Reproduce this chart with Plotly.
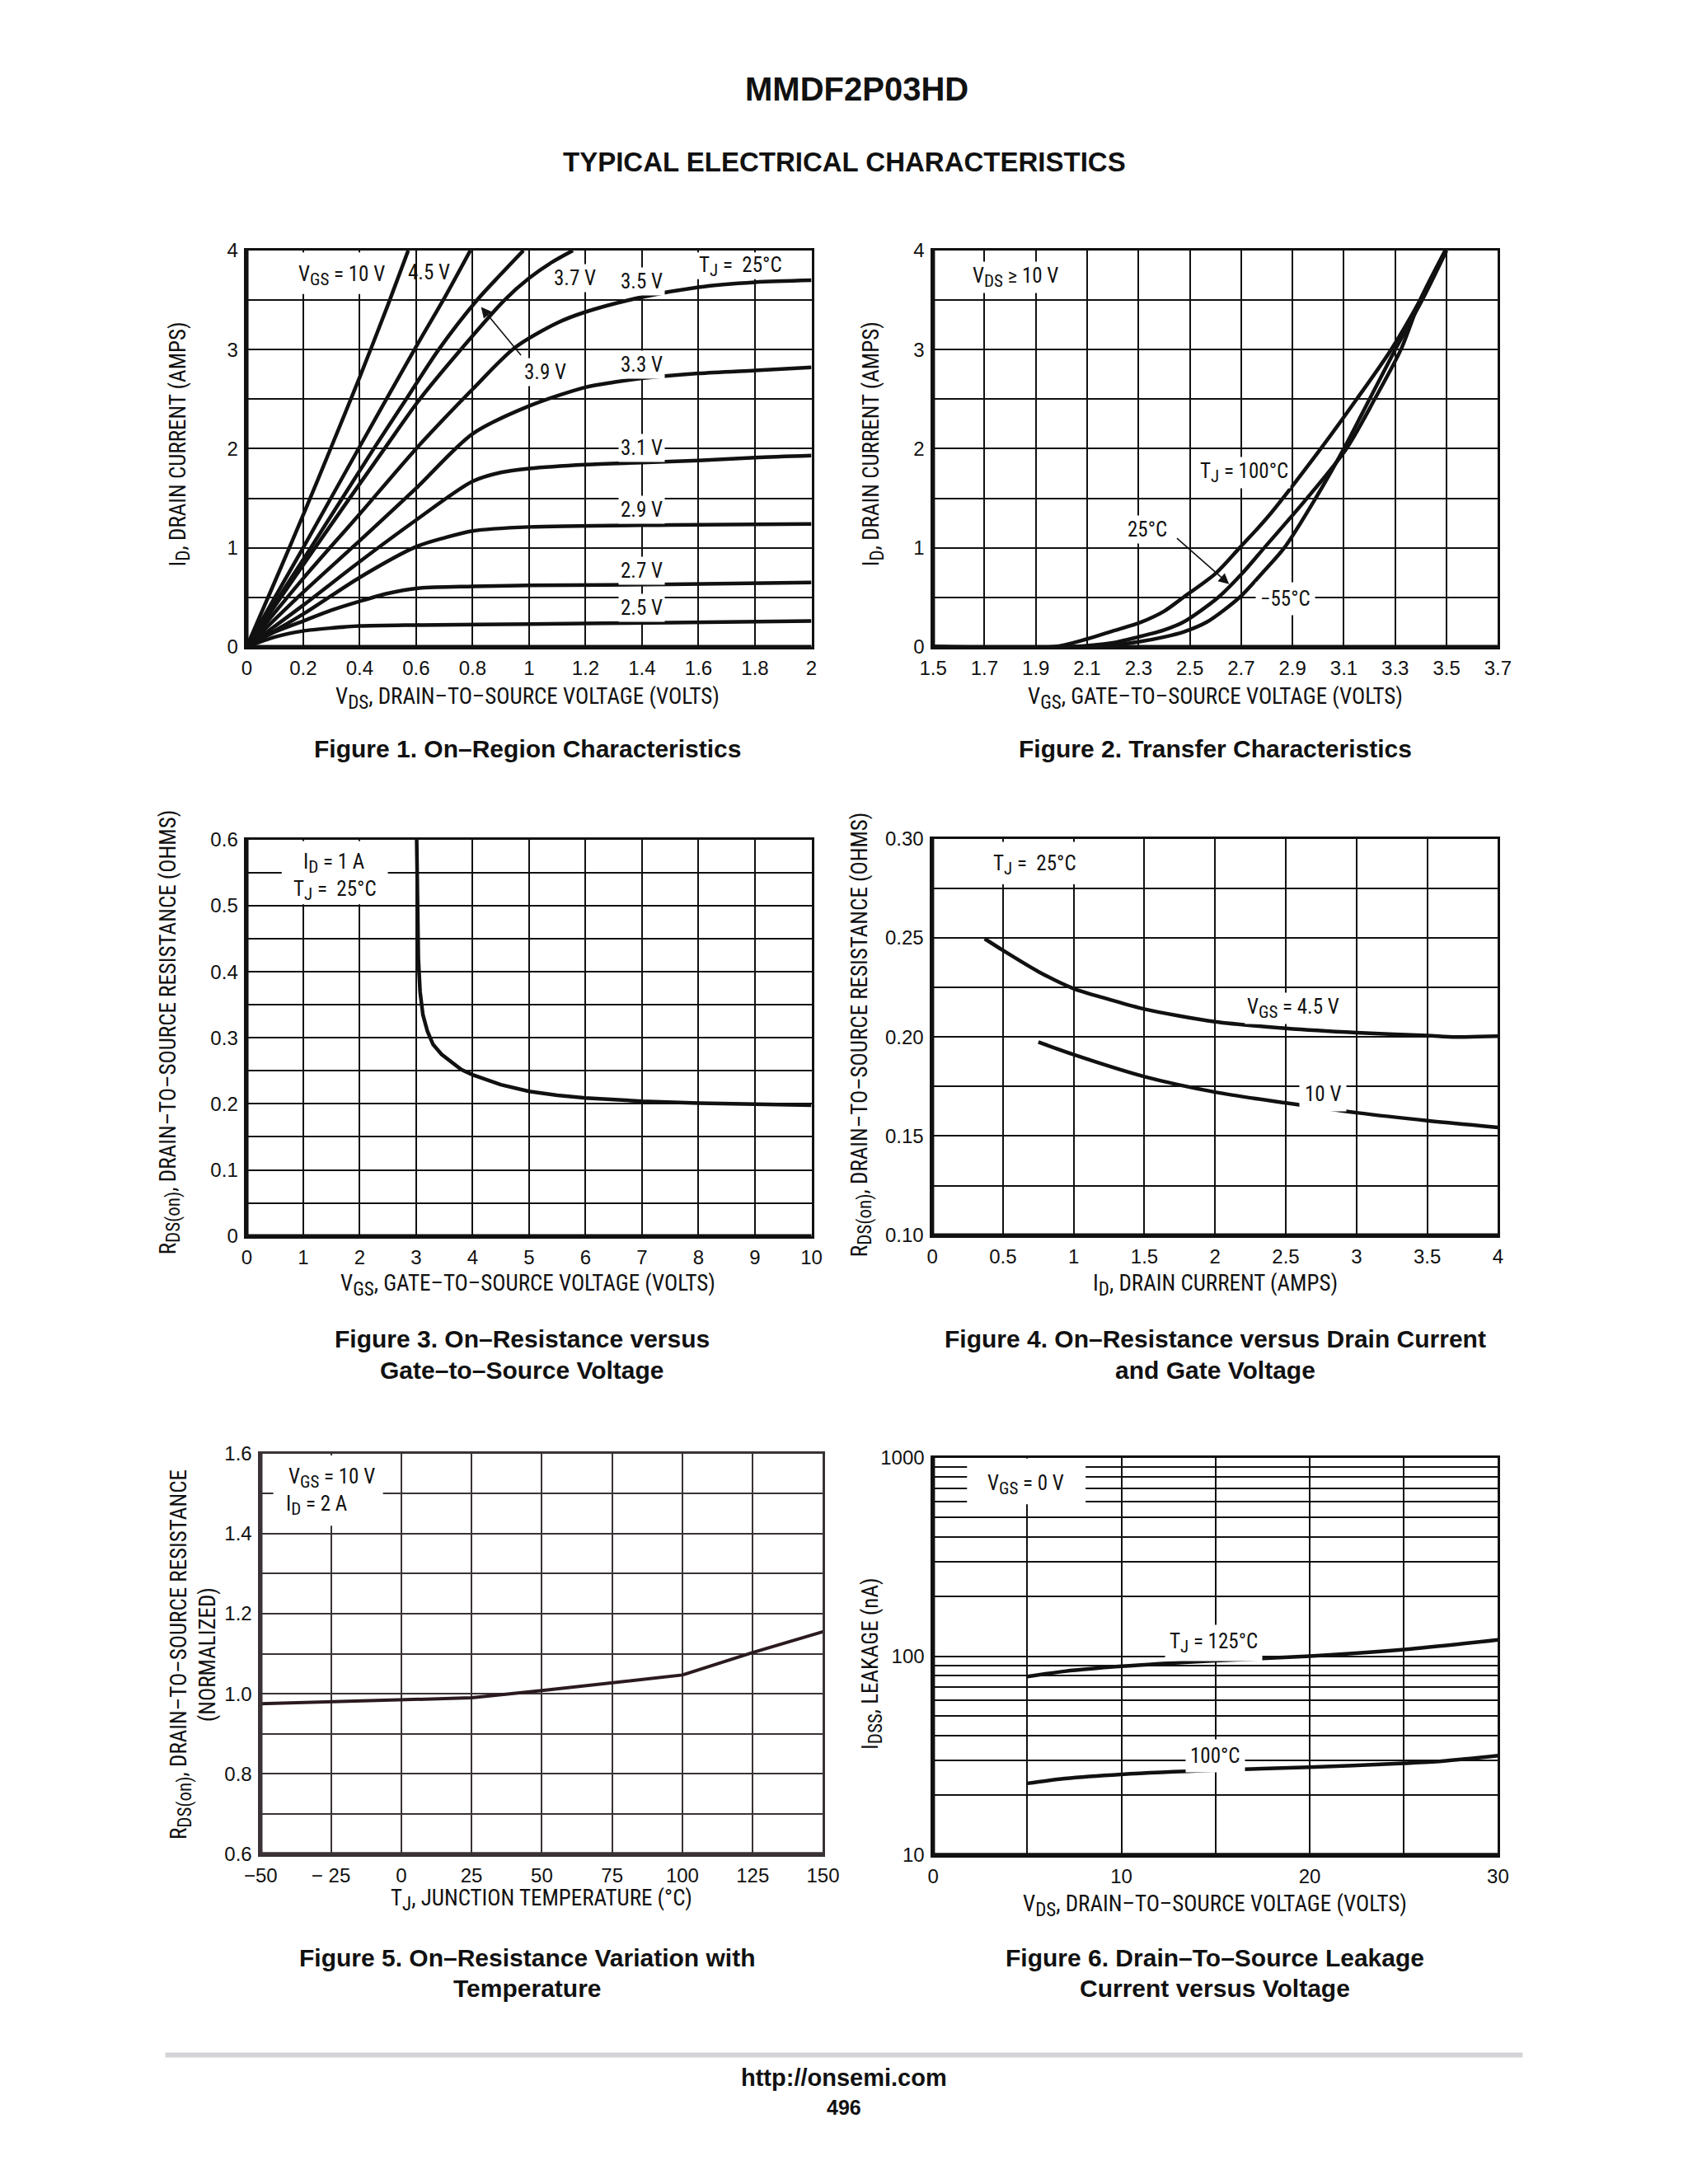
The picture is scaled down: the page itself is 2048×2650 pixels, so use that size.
import plotly.graph_objects as go

W, H = 2048, 2650
NARROW = "Liberation Sans Narrow, Arial Narrow, Roboto Condensed, sans-serif"
SANS = "Liberation Sans, Arial, Helvetica, sans-serif"
INK = "#111111"

# ---------------- Figure 1: On-Region Characteristics ----------------
f1_10_x = [0, 0.1, 0.2, 0.3, 0.4, 0.5, 0.572]
f1_10_y = [0, 0.66, 1.33, 2.02, 2.72, 3.45, 4.0]
f1_45_x = [0, 0.2, 0.4, 0.6, 0.7, 0.792]
f1_45_y = [0, 1.0, 2.02, 3.03, 3.52, 4.0]
f1_39_x = [0, 0.227, 0.45, 0.565, 0.68, 0.816, 0.9, 0.98]
f1_39_y = [0, 1.0, 2.0, 2.5, 3.0, 3.5, 3.76, 4.0]
f1_37_x = [0, 0.242, 0.488, 0.613, 0.758, 0.913, 1.0, 1.08, 1.155]
f1_37_y = [0, 1.0, 2.0, 2.5, 3.0, 3.5, 3.72, 3.88, 4.0]
f1_35_x = [0, 0.2, 0.4, 0.6, 0.8, 0.95, 1.1, 1.2, 1.4, 1.6, 1.8, 2.0]
f1_35_y = [0, 0.69, 1.34, 2.0, 2.6, 3.02, 3.27, 3.38, 3.53, 3.63, 3.68, 3.70]
f1_33_x = [0, 0.2, 0.4, 0.6, 0.8, 1.0, 1.2, 1.3, 1.4, 1.6, 1.8, 2.0]
f1_33_y = [0, 0.55, 1.07, 1.6, 2.15, 2.43, 2.62, 2.67, 2.71, 2.76, 2.79, 2.82]
f1_31_x = [0, 0.2, 0.4, 0.6, 0.8, 0.9, 1.0, 1.2, 1.4, 1.6, 1.8, 2.0]
f1_31_y = [0, 0.42, 0.86, 1.28, 1.67, 1.76, 1.80, 1.84, 1.86, 1.88, 1.91, 1.93]
f1_29_x = [0, 0.2, 0.4, 0.6, 0.7, 0.8, 1.0, 1.5, 2.0]
f1_29_y = [0, 0.33, 0.70, 1.01, 1.10, 1.17, 1.21, 1.23, 1.24]
f1_27_x = [0, 0.1, 0.2, 0.3, 0.4, 0.5, 0.6, 0.8, 1.0, 1.5, 2.0]
f1_27_y = [0, 0.15, 0.26, 0.37, 0.46, 0.54, 0.59, 0.61, 0.62, 0.63, 0.65]
f1_25_x = [0, 0.1, 0.2, 0.3, 0.4, 0.6, 1.0, 1.5, 2.0]
f1_25_y = [0, 0.10, 0.16, 0.19, 0.21, 0.22, 0.23, 0.245, 0.26]
f1_x_ticks = [0, 0.2, 0.4, 0.6, 0.8, 1.0, 1.2, 1.4, 1.6, 1.8, 2.0]
f1_x_ticktext = ["0", "0.2", "0.4", "0.6", "0.8", "1", "1.2", "1.4", "1.6", "1.8", "2"]

# ---------------- Figure 2: Transfer Characteristics ----------------
f2_100_x = [1.5, 1.97, 2.1, 2.2, 2.31, 2.4, 2.475, 2.6, 2.694, 2.8, 3.004, 3.15, 3.284, 3.397, 3.495]
f2_100_y = [0, 0, 0.08, 0.16, 0.25, 0.36, 0.5, 0.74, 1.0, 1.3, 1.98, 2.5, 3.0, 3.5, 4.0]
f2_25_x = [1.5, 2.03, 2.2, 2.3, 2.4, 2.475, 2.611, 2.7, 2.79, 2.95, 3.11, 3.22, 3.322, 3.397, 3.495]
f2_25_y = [0, 0, 0.04, 0.1, 0.17, 0.25, 0.5, 0.73, 1.0, 1.48, 2.0, 2.5, 3.0, 3.5, 4.0]
f2_m55_x = [1.5, 2.14, 2.3, 2.4, 2.475, 2.566, 2.694, 2.78, 2.868, 2.99, 3.10, 3.2, 3.30, 3.405, 3.50]
f2_m55_y = [0, 0, 0.05, 0.1, 0.15, 0.25, 0.5, 0.74, 1.0, 1.5, 2.0, 2.5, 3.0, 3.5, 4.0]
f2_x_ticks = [1.5, 1.7, 1.9, 2.1, 2.3, 2.5, 2.7, 2.9, 3.1, 3.3, 3.5, 3.7]
f2_x_ticktext = ["1.5", "1.7", "1.9", "2.1", "2.3", "2.5", "2.7", "2.9", "3.1", "3.3", "3.5", "3.7"]

# ---------------- Figure 3: RDS(on) vs VGS ----------------
f3_x = [3.01, 3.02, 3.04, 3.07, 3.12, 3.2, 3.3, 3.45, 3.6, 3.8, 4.0, 4.5, 5.0, 5.5, 6.0, 7.0, 8.0, 9.0, 10.0]
f3_y = [0.60, 0.50, 0.42, 0.37, 0.335, 0.31, 0.29, 0.275, 0.265, 0.252, 0.244, 0.229, 0.219, 0.213, 0.209, 0.204, 0.201, 0.199, 0.198]
f3_y_ticks = [0, 0.1, 0.2, 0.3, 0.4, 0.5, 0.6]
f3_y_ticktext = ["0", "0.1", "0.2", "0.3", "0.4", "0.5", "0.6"]

# ---------------- Figure 4: RDS(on) vs ID ----------------
f4_45_x = [0.37, 0.5, 0.75, 1.0, 1.25, 1.5, 2.0, 2.5, 3.0, 3.5, 3.7, 4.0]
f4_45_y = [0.2496, 0.2437, 0.2330, 0.2244, 0.2190, 0.2141, 0.2077, 0.2044, 0.2022, 0.2007, 0.2000, 0.2004]
f4_10_x = [0.75, 1.0, 1.5, 2.0, 2.5, 3.0, 3.5, 4.0]
f4_10_y = [0.1975, 0.1911, 0.1800, 0.1722, 0.1667, 0.1618, 0.1578, 0.1544]

# ---------------- Figure 5: RDS(on) vs temperature ----------------
f5_x = [-50, -25, 0, 25, 50, 75, 100, 125, 150]
f5_y = [0.975, 0.980, 0.985, 0.990, 1.008, 1.027, 1.047, 1.103, 1.155]
f5_x_ticks = [-50, -25, 0, 25, 50, 75, 100, 125, 150]
f5_x_ticktext = ["\u221250", "\u2212 25", "0", "25", "50", "75", "100", "125", "150"]

# ---------------- Figure 6: Leakage vs VDS ----------------
f6_125_x = [5, 7, 10, 15, 20, 25, 30]
f6_125_y = [79, 84, 89, 95, 100, 108, 121]
f6_100_x = [5, 7, 10, 15, 20, 25, 27, 30]
f6_100_y = [22.9, 24.2, 25.4, 26.7, 27.6, 28.9, 29.6, 31.6]
f6_x_ticks = [0, 5, 10, 15, 20, 25, 30]
f6_x_ticktext = ["0", "", "10", "", "20", "", "30"]
f6_y_ticks = [10, 20, 30, 40, 50, 60, 70, 80, 90, 100, 200, 300, 400, 500, 600, 700, 800, 900, 1000]
f6_y_ticktext = ["10", "", "", "", "", "", "", "", "", "100", "", "", "", "", "", "", "", "", "1000"]

# ---------------- layout helpers ----------------
# the captured page is slightly rescaled/offset; compensate so targets land where wanted
AX, BX = 0.983, 25.0
AY, BY = 0.990, 19.0

def px(x):
    return ((x - BX) / AX) / W

def py(y):
    return 1 - ((y - BY) / AY) / H

def sub(s, size):
    return f"<sub><span style='font-size:{size}px'>{s}</span></sub>"

# target pixel boxes of the six plot areas: (left, right, top, bottom)
BOX = {
    1: (297, 984, 301, 782),
    2: (1132, 1819, 301, 782),
    3: (297, 984, 1016, 1497),
    4: (1131, 1819, 1015, 1496),
    5: (314, 998, 1761, 2247),
    6: (1132, 1819, 1766, 2248),
}

fig = go.Figure()

def add_line(n, xs, ys, shape="spline", color=INK, width=4.5):
    fig.add_trace(go.Scatter(
        x=xs, y=ys, mode="lines",
        line=dict(color=color, width=width, shape=shape, smoothing=0.8 if shape == "spline" else None),
        xaxis="x" if n == 1 else f"x{n}", yaxis="y" if n == 1 else f"y{n}",
        showlegend=False, hoverinfo="skip"))

for xs, ys in [(f1_10_x, f1_10_y), (f1_45_x, f1_45_y), (f1_39_x, f1_39_y), (f1_37_x, f1_37_y),
               (f1_35_x, f1_35_y), (f1_33_x, f1_33_y), (f1_31_x, f1_31_y), (f1_29_x, f1_29_y),
               (f1_27_x, f1_27_y), (f1_25_x, f1_25_y)]:
    add_line(1, xs, ys)
for xs, ys in [(f2_100_x, f2_100_y), (f2_25_x, f2_25_y), (f2_m55_x, f2_m55_y)]:
    add_line(2, xs, ys)
add_line(3, f3_x, f3_y, shape="linear")
add_line(4, f4_45_x, f4_45_y)
add_line(4, f4_10_x, f4_10_y)
add_line(5, f5_x, f5_y, shape="linear", color="#2b1b1e", width=4)
add_line(6, f6_125_x, f6_125_y)
add_line(6, f6_100_x, f6_100_y)

def axis(n, kind, grid=INK, **kw):
    l, r, t, b = BOX[n]
    d = dict(showgrid=True, gridcolor=grid, gridwidth=1.8, showline=True, linecolor=grid,
             linewidth=2.5, mirror=True, zeroline=False, ticks="", fixedrange=True,
             tickfont=dict(family=SANS, size=24, color=INK), ticklabelstandoff=3)
    if kind == "x":
        d["domain"] = [px(l), px(r)]
        d["anchor"] = "y" if n == 1 else f"y{n}"
    else:
        d["domain"] = [py(b), py(t)]
        d["anchor"] = "x" if n == 1 else f"x{n}"
    d.update(kw)
    return d

def minor(step, grid=INK):
    return dict(dtick=step, showgrid=True, gridcolor=grid, gridwidth=1.8, ticks="")

GRID5 = "#3a3236"
fig.update_layout(
    width=W, height=H, margin=dict(l=0, r=0, t=0, b=0),
    paper_bgcolor="white", plot_bgcolor="white", showlegend=False,
    xaxis=axis(1, "x", range=[0, 2], tickmode="array", tickvals=f1_x_ticks, ticktext=f1_x_ticktext),
    yaxis=axis(1, "y", range=[0, 4], dtick=1, minor=minor(0.5)),
    xaxis2=axis(2, "x", range=[1.5, 3.7], tickmode="array", tickvals=f2_x_ticks, ticktext=f2_x_ticktext),
    yaxis2=axis(2, "y", range=[0, 4], dtick=1, minor=minor(0.5)),
    xaxis3=axis(3, "x", range=[0, 10], dtick=1),
    yaxis3=axis(3, "y", range=[0, 0.6], tickmode="array", tickvals=f3_y_ticks, ticktext=f3_y_ticktext,
                minor=minor(0.05)),
    xaxis4=axis(4, "x", range=[0, 4], dtick=0.5),
    yaxis4=axis(4, "y", range=[0.1, 0.3], tick0=0.1, dtick=0.05, tickformat=".2f", minor=minor(0.025)),
    xaxis5=axis(5, "x", grid=GRID5, range=[-50, 150], tickmode="array", tickvals=f5_x_ticks, ticktext=f5_x_ticktext),
    yaxis5=axis(5, "y", grid=GRID5, range=[0.6, 1.6], tick0=0.6, dtick=0.2, tickformat=".1f", minor=minor(0.1, GRID5)),
    xaxis6=axis(6, "x", range=[0, 30], tickmode="array", tickvals=f6_x_ticks, ticktext=f6_x_ticktext),
    yaxis6=axis(6, "y", type="log", range=[1, 3], tickmode="array", tickvals=f6_y_ticks, ticktext=f6_y_ticktext),
)

shapes = []
# thick left / bottom axis lines
for n in range(1, 7):
    xr = "x domain" if n == 1 else f"x{n} domain"
    yr = "y domain" if n == 1 else f"y{n} domain"
    col = GRID5 if n == 5 else INK
    shapes.append(dict(type="line", xref=xr, yref=yr, x0=0, x1=0, y0=0, y1=1, line=dict(color=col, width=4.5)))
    shapes.append(dict(type="line", xref=xr, yref=yr, x0=0, x1=1, y0=0, y1=0, line=dict(color=col, width=4.5)))

# white boxes that break the grid behind condition labels (drawn under the curves)
def wbox(n, x0, x1, y0, y1):
    shapes.append(dict(type="rect", xref="x" if n == 1 else f"x{n}", yref="y" if n == 1 else f"y{n}",
                       x0=x0, x1=x1, y0=y0, y1=y1, fillcolor="white", line=dict(width=0), layer="between"))

wbox(1, 0.16, 0.52, 3.56, 3.98)
wbox(1, 1.56, 1.95, 3.71, 3.98)
wbox(3, 0.62, 2.5, 0.502, 0.598)
wbox(4, 0.40, 1.05, 0.277, 0.2985)
wbox(5, -45.5, -6.5, 1.42, 1.595)
shapes.append(dict(type="rect", xref="x6", yref="y6", x0=1.8, x1=8.1, y0=583, y1=990,
                   fillcolor="white", line=dict(width=0), layer="between"))
# gray rule at the foot of the page
shapes.append(dict(type="line", xref="paper", yref="paper", x0=px(198), x1=px(1849), y0=py(2491), y1=py(2491),
                   line=dict(color="#d4d4d8", width=6)))
fig.update_layout(shapes=shapes)

ann = []

def label(n, x, y, text, size=25, bg="white", pad=2, **kw):
    a = dict(xref="x" if n == 1 else f"x{n}", yref="y" if n == 1 else f"y{n}", x=x, y=y, text=text,
             showarrow=False, font=dict(family=NARROW, size=size, color=INK), bgcolor=bg, borderpad=pad,
             xanchor="center", yanchor="middle")
    a.update(kw)
    ann.append(a)

def page(x, y, text, size, fam=NARROW, bold=False, angle=0, **kw):
    a = dict(xref="paper", yref="paper", x=px(x), y=py(y), text=f"<b>{text}</b>" if bold else text,
             showarrow=False, font=dict(family=fam, size=size, color=INK), textangle=angle,
             xanchor="center", yanchor="middle")
    a.update(kw)
    ann.append(a)

LS = 21  # subscript size inside plot labels
# Figure 1 labels
label(1, 0.335, 3.75, f"V{sub('GS', LS)} = 10 V", bg=None)
label(1, 0.647, 3.78, "4.5 V", bg=None)
label(1, 1.162, 3.72, "3.7 V")
label(1, 1.40, 3.69, "3.5 V")
label(1, 1.75, 3.84, f"T{sub('J', LS)} =  25°C", bg=None)
label(1, 1.058, 2.77, "3.9 V")
label(1, 1.40, 2.85, "3.3 V")
label(1, 1.40, 2.01, "3.1 V")
label(1, 1.40, 1.38, "2.9 V")
label(1, 1.40, 0.77, "2.7 V")
label(1, 1.40, 0.39, "2.5 V")
ann.append(dict(xref="x", yref="y", axref="x", ayref="y", x=0.83, y=3.43, ax=0.975, ay=2.93, text="",
                showarrow=True, arrowhead=2, arrowsize=1.6, arrowwidth=1.6, arrowcolor=INK))

# Figure 2 labels
label(2, 1.82, 3.73, f"V{sub('DS', LS)} \u2265 10 V")
label(2, 2.71, 1.76, f"T{sub('J', LS)} = 100°C")
label(2, 2.335, 1.18, "25°C")
label(2, 2.872, 0.484, "\u221255°C", pad=5)
ann.append(dict(xref="x2", yref="y2", axref="x2", ayref="y2", x=2.653, y=0.632, ax=2.445, ay=1.107, text="",
                showarrow=True, arrowhead=2, arrowsize=1.6, arrowwidth=1.6, arrowcolor=INK))

# Figure 3 labels
label(3, 1.54, 0.5636, f"I{sub('D', LS)} = 1 A", bg=None)
label(3, 1.56, 0.5236, f"T{sub('J', LS)} =  25°C", bg=None)

# Figure 4 labels
label(4, 0.725, 0.2867, f"T{sub('J', LS)} =  25°C", bg=None)
label(4, 2.55, 0.2145, f"V{sub('GS', LS)} = 4.5 V")
label(4, 2.76, 0.1712, "10 V", pad=6)

# Figure 5 labels
label(5, -24.6, 1.538, f"V{sub('GS', LS)} = 10 V", bg=None)
label(5, -30.0, 1.47, f"I{sub('D', LS)} = 2 A", bg=None)

# Figure 6 labels (log axis: y given as log10 of the value)
label(6, 4.94, 2.862, f"V{sub('GS', LS)} = 0 V", bg=None)
label(6, 14.9, 2.068, f"T{sub('J', LS)} = 125°C", pad=5)
label(6, 15.0, 1.497, "100°C", pad=5)

# Page headers and footer
page(1039, 105, "MMDF2P03HD", 40, fam=SANS, bold=True)
page(1024, 194, "TYPICAL ELECTRICAL CHARACTERISTICS", 33, fam=SANS, bold=True)
page(1024, 2518, "http://onsemi.com", 29, fam=SANS, bold=True)
page(1024, 2554, "496", 25, fam=SANS, bold=True)

# Axis titles
TS = 27
SS = 23  # subscript size in axis titles
page(639, 845, f"V{sub('DS', SS)}, DRAIN\u2013TO\u2013SOURCE VOLTAGE (VOLTS)", TS)
page(216, 536, f"I{sub('D', SS)}, DRAIN CURRENT (AMPS)", TS, angle=-90)
page(1475, 845, f"V{sub('GS', SS)}, GATE\u2013TO\u2013SOURCE VOLTAGE (VOLTS)", TS)
page(1060, 536, f"I{sub('D', SS)}, DRAIN CURRENT (AMPS)", TS, angle=-90)
page(639, 1557, f"V{sub('GS', SS)}, GATE\u2013TO\u2013SOURCE VOLTAGE (VOLTS)", TS)
page(204, 1250, f"R{sub('DS(on)', SS)}, DRAIN\u2013TO\u2013SOURCE RESISTANCE (OHMS)", TS, angle=-90)
page(1475, 1557, f"I{sub('D', SS)}, DRAIN CURRENT (AMPS)", TS)
page(1045, 1252, f"R{sub('DS(on)', SS)}, DRAIN\u2013TO\u2013SOURCE RESISTANCE (OHMS)", TS, angle=-90)
page(656, 2303, f"T{sub('J', SS)}, JUNCTION TEMPERATURE (°C)", TS)
page(232, 2005, f"R{sub('DS(on)', SS)}, DRAIN\u2013TO\u2013SOURCE RESISTANCE<br>(NORMALIZED)", TS, angle=-90)
page(1475, 2310, f"V{sub('DS', SS)}, DRAIN\u2013TO\u2013SOURCE VOLTAGE (VOLTS)", TS)
page(1058, 2016, f"I{sub('DSS', SS)}, LEAKAGE (nA)", TS, angle=-90)

# Captions
CS = 30
page(639, 906, "Figure 1. On\u2013Region Characteristics", CS, fam=SANS, bold=True)
page(1475, 906, "Figure 2. Transfer Characteristics", CS, fam=SANS, bold=True)
page(632, 1622, "Figure 3. On\u2013Resistance versus", CS, fam=SANS, bold=True)
page(632, 1660, "Gate\u2013to\u2013Source Voltage", CS, fam=SANS, bold=True)
page(1475, 1622, "Figure 4. On\u2013Resistance versus Drain Current", CS, fam=SANS, bold=True)
page(1475, 1660, "and Gate Voltage", CS, fam=SANS, bold=True)
page(639, 2373, "Figure 5. On\u2013Resistance Variation with", CS, fam=SANS, bold=True)
page(639, 2410, "Temperature", CS, fam=SANS, bold=True)
page(1475, 2373, "Figure 6. Drain\u2013To\u2013Source Leakage", CS, fam=SANS, bold=True)
page(1475, 2410, "Current versus Voltage", CS, fam=SANS, bold=True)

fig.update_layout(annotations=ann)
fig.write_html("out.html")
